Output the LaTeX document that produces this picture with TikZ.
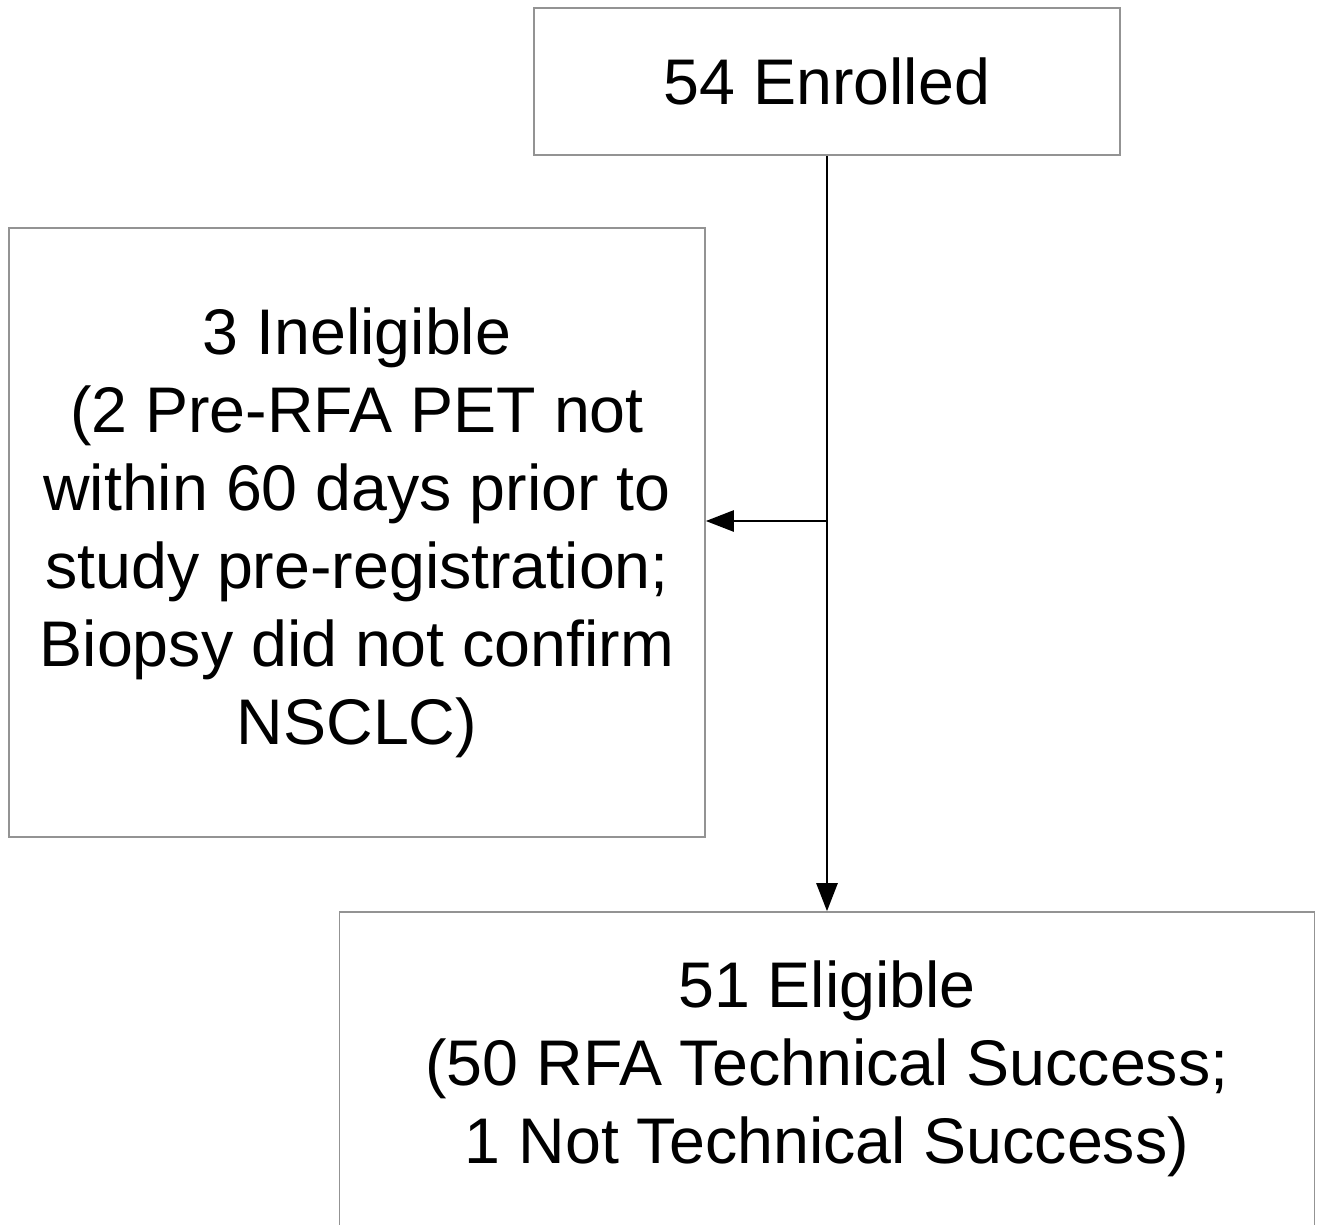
\documentclass[tikz,border=0pt]{standalone}
\usepackage{fontspec}
\setmainfont{Liberation Sans}
\usetikzlibrary{positioning,arrows.meta}

\begin{document}
\begin{tikzpicture}
    [%%%%%%%%%%%%%%%%%%%%%%%%%%%%%%
    x=1pt, y=-1pt,
    box/.style={rectangle,draw=gray!85,line width=1.6pt,align=center,
                font=\fontsize{64.5}{78}\selectfont},
    flow/.style={line width=2.6pt,-{Triangle[length=28pt,width=21pt]}},
    ]%%%%%%%%%%%%%%%%%%%%%%%%%%%%%%

    \useasboundingbox (0,0) rectangle (1323,1224);

    % enrolled
    \node[box,minimum width=586pt,minimum height=147pt] at (827,81.5) (enrolled) {54 Enrolled};

    % ineligible
    \node[box,minimum width=696pt,minimum height=609pt] at (357,532.5) (ineligible)
        {3 Ineligible\\(2 Pre-RFA PET not\\within 60 days prior to\\study pre-registration;\\Biopsy did not confirm\\NSCLC)};

    % eligible
    \node[box,minimum width=975pt,minimum height=314pt] at (827,1069) (eligible)
        {51 Eligible\\(50 RFA Technical Success;\\1 Not Technical Success)};

    % arrows
    \coordinate (split) at (827,521);
    \draw[flow] (enrolled.south) -- (eligible.north);
    \draw[flow] (split) -- (split -| ineligible.east);
\end{tikzpicture}
\end{document}
